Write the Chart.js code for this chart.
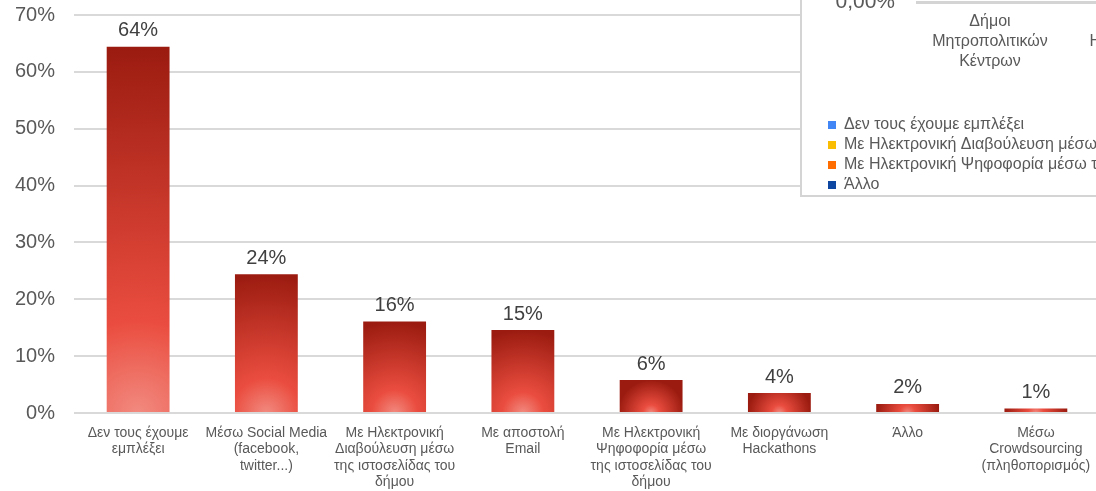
<!DOCTYPE html>
<html>
<head>
<meta charset="utf-8">
<script src="https://cdn.jsdelivr.net/npm/chart.js@4.4.1/dist/chart.umd.min.js"></script>
<style>
  html, body { margin: 0; padding: 0; background: #fff; overflow: hidden; width: 1096px; height: 491px; }
  #wrap { position: relative; width: 1096px; height: 491px; overflow: hidden; }
  #mainChart { position: absolute; left: 0; top: 0; }
  #box { position: absolute; left: 800px; top: -300px; width: 420px; height: 493px; border: 2px solid #d4d4d4; background: #fff; overflow: hidden; }
  #boxChart { position: absolute; left: 0; top: 0; }
</style>
</head>
<body>
<div id="wrap">
  <canvas id="mainChart" width="1100" height="491"></canvas>
  <div id="box"><canvas id="boxChart" width="420" height="501"></canvas></div>
</div>
<script>
// main chart data
const categories = [
  ["Δεν τους έχουμε", "εμπλέξει"],
  ["Μέσω Social Media", "(facebook,", "twitter...)"],
  ["Με Ηλεκτρονική", "Διαβούλευση μέσω", "της ιστοσελίδας του", "δήμου"],
  ["Με αποστολή", "Email"],
  ["Με Ηλεκτρονική", "Ψηφοφορία μέσω", "της ιστοσελίδας του", "δήμου"],
  ["Με διοργάνωση", "Hackathons"],
  ["Άλλο"],
  ["Μέσω", "Crowdsourcing", "(πληθοπορισμός)"]
];
const values = [64.4, 24.4, 16.1, 14.6, 5.8, 3.5, 1.6, 0.8];

// the other chart that sits over the top right corner
const boxCategories = [
  ["Δήμοι", "Μητροπολιτικών", "Κέντρων"],
  ["Δήμοι", "Ηπειρωτικών", "Περιοχών"]
];
const boxSeries = [
  "Δεν τους έχουμε εμπλέξει",
  "Με Ηλεκτρονική Διαβούλευση μέσω της ιστοσελίδας του δήμου",
  "Με Ηλεκτρονική Ψηφοφορία μέσω της ιστοσελίδας του δήμου",
  "Άλλο"
];
const boxValues = [[0, 0], [0, 0], [0, 0], [0, 0]];
const boxColors = ["#4285f4", "#fbbc04", "#ff6d01", "#0d47a1"];

Chart.defaults.font.family = "'Liberation Sans', Arial, sans-serif";
Chart.defaults.color = "#595959";

const barPct = 0.49;

function barFill(c) {
  const chart = c.chart;
  const xs = chart.scales.x, ys = chart.scales.y;
  if (!xs || !ys || c.dataIndex === undefined) return "#d63b2e";
  const v = values[c.dataIndex];
  const cx = xs.getPixelForValue(c.dataIndex);
  const top = ys.getPixelForValue(v);
  const base = ys.getPixelForValue(0);
  const w = xs.width / categories.length * barPct;
  const r = Math.max(base - top, w / 2, 1);
  if (![cx, top, base, r].every(Number.isFinite)) return "#d63b2e";
  const g = chart.ctx.createRadialGradient(cx, base, 0, cx, base, r);
  g.addColorStop(0, "#f28a80");
  g.addColorStop(0.25, "#ea4d3f");
  g.addColorStop(1, "#9b1b10");
  return g;
}

const valueLabels = {
  id: "valueLabels",
  afterDatasetsDraw(chart) {
    const ctx = chart.ctx;
    const meta = chart.getDatasetMeta(0);
    ctx.save();
    ctx.font = "20px 'Liberation Sans', Arial, sans-serif";
    ctx.fillStyle = "#404040";
    ctx.textAlign = "center";
    ctx.textBaseline = "bottom";
    meta.data.forEach((bar, i) => {
      ctx.fillText(Math.round(values[i]) + "%", bar.x, bar.y - 6);
    });
    ctx.restore();
  }
};

new Chart(document.getElementById("mainChart"), {
  type: "bar",
  data: {
    labels: categories,
    datasets: [{
      data: values,
      backgroundColor: barFill,
      borderWidth: 0,
      barPercentage: barPct,
      categoryPercentage: 1
    }]
  },
  options: {
    responsive: false,
    animation: false,
    devicePixelRatio: 1,
    layout: { padding: { top: 15, left: 0, right: 0, bottom: 0 } },
    plugins: { legend: { display: false }, tooltip: { enabled: false } },
    scales: {
      x: {
        grid: { display: false },
        border: { display: false },
        ticks: {
          autoSkip: false, maxRotation: 0, minRotation: 0,
          font: { size: 14, lineHeight: 1.17 },
          color: "#595959",
          padding: 4
        },
        afterFit: (s) => { s.height = 78; }
      },
      y: {
        min: 0, max: 70,
        grid: { color: "#d9d9d9", lineWidth: 2, drawTicks: false },
        border: { display: false },
        ticks: {
          stepSize: 10,
          font: { size: 20 },
          color: "#595959",
          padding: 19,
          callback: (v) => v + "%"
        },
        afterFit: (s) => { s.width = 74; s.paddingTop = 0; s.paddingBottom = 0; }
      }
    }
  },
  plugins: [valueLabels]
});

new Chart(document.getElementById("boxChart"), {
  type: "bar",
  data: {
    labels: boxCategories,
    datasets: boxSeries.map((name, i) => ({
      label: name,
      data: boxValues[i],
      backgroundColor: boxColors[i]
    }))
  },
  options: {
    responsive: false,
    animation: false,
    devicePixelRatio: 1,
    layout: { padding: { top: 0, left: 22, right: 13, bottom: 0 } },
    plugins: {
      tooltip: { enabled: false },
      legend: {
        position: "bottom",
        align: "start",
        labels: {
          boxWidth: 8, boxHeight: 8, padding: 4,
          font: { size: 16 },
          color: "#595959"
        }
      }
    },
    scales: {
      x: {
        grid: { display: false },
        border: { display: true, color: "#d4d4d4", width: 3 },
        ticks: {
          autoSkip: false, maxRotation: 0, minRotation: 0,
          font: { size: 16, lineHeight: 1.25 },
          color: "#595959",
          padding: 2
        },
        afterFit: (s) => { s.height = 111; }
      },
      y: {
        min: 0, max: 1,
        grid: { display: false, drawTicks: false },
        border: { display: false },
        ticks: {
          stepSize: 0.5,
          font: { size: 21 },
          color: "#595959",
          padding: 22,
          callback: (v) => v.toFixed(2).replace(".", ",") + "%"
        },
        afterFit: (s) => { s.width = 93; }
      }
    }
  }
});
</script>
</body>
</html>
